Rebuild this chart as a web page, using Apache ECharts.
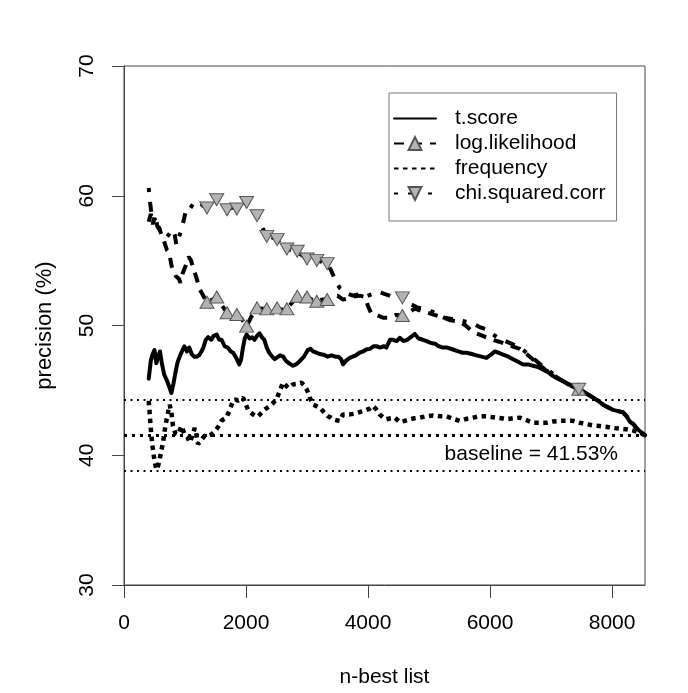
<!DOCTYPE html>
<html>
<head>
<meta charset="utf-8">
<title>precision vs n-best list</title>
<style>
  html, body { margin: 0; padding: 0; background: #fff; }
  #chart { width: 688px; height: 693px; }
</style>
<script src="https://cdn.jsdelivr.net/npm/echarts@6/dist/echarts.min.js"></script>
</head>
<body>
<div id="chart"></div>
<script>
// curves as [n, precision] pairs
const tScore = [
  [405, 45.9], [440, 47.3], [470, 47.8], [500, 48.1], [530, 47.1], [560, 47.6], [590, 48.0],
  [620, 47.1], [660, 46.2], [700, 45.8], [740, 45.3], [777, 44.8], [810, 45.5], [840, 46.3],
  [880, 47.2], [920, 47.7], [950, 48.0], [990, 48.4], [1030, 48.0], [1070, 48.3], [1110, 47.8],
  [1150, 47.6], [1190, 47.6], [1230, 47.7], [1270, 48.0], [1300, 48.3], [1340, 48.9], [1380, 49.1],
  [1430, 48.9], [1470, 49.2], [1520, 49.3], [1560, 48.9], [1600, 48.9], [1650, 48.4], [1700, 48.3],
  [1750, 48.0], [1790, 47.9], [1840, 47.5], [1890, 47.0], [1920, 47.4], [1950, 48.3], [1980, 49.0],
  [2010, 49.3], [2060, 49.0], [2100, 49.1], [2140, 48.9], [2180, 49.2], [2220, 49.4], [2260, 49.1],
  [2300, 48.9], [2340, 48.3], [2380, 47.9], [2430, 47.6], [2470, 47.4], [2500, 47.4], [2560, 47.7],
  [2610, 47.6], [2650, 47.3], [2700, 47.1], [2770, 46.9], [2820, 47.0], [2880, 47.25], [2950, 47.6],
  [3010, 48.1], [3060, 48.2], [3100, 48.0], [3160, 47.9], [3210, 47.8], [3270, 47.75], [3340, 47.6],
  [3400, 47.7], [3460, 47.6], [3510, 47.6], [3560, 47.4], [3590, 47.0], [3640, 47.3], [3700, 47.5],
  [3750, 47.6], [3800, 47.7], [3860, 47.9], [3920, 48.0], [3970, 48.15], [4030, 48.2], [4090, 48.4],
  [4140, 48.4], [4200, 48.3], [4260, 48.4], [4300, 48.3], [4360, 48.9], [4410, 48.9], [4470, 48.8],
  [4520, 49.05], [4580, 48.8], [4640, 48.9], [4700, 49.1], [4766, 49.35], [4830, 49.0], [4900, 48.9],
  [4960, 48.8], [5030, 48.65], [5100, 48.6], [5160, 48.4], [5230, 48.3], [5300, 48.3], [5393, 48.15],
  [5480, 48.0], [5550, 47.9], [5613, 47.9], [5700, 47.8], [5777, 47.7], [5860, 47.6], [5941, 47.5],
  [6000, 47.7], [6077, 48.0], [6140, 47.9], [6213, 47.75], [6300, 47.6], [6377, 47.4], [6460, 47.2],
  [6541, 47.0], [6620, 47.0], [6705, 46.9], [6790, 46.8], [6869, 46.6], [6950, 46.4], [7033, 46.1],
  [7110, 45.9], [7197, 45.7], [7280, 45.5], [7361, 45.33], [7440, 45.1], [7525, 44.95], [7600, 44.7],
  [7689, 44.44], [7770, 44.2], [7853, 43.9], [7930, 43.7], [8016, 43.5], [8100, 43.4], [8180, 43.3],
  [8240, 43.0], [8290, 42.6], [8350, 42.4], [8400, 42.1], [8470, 41.8], [8540, 41.53],
];

const logLikelihood = [
  [405, 58.0], [440, 58.6], [470, 57.8], [500, 58.3], [530, 57.5], [570, 57.6], [613, 57.0],
  [650, 56.6], [705, 55.8], [740, 55.6], [780, 54.6], [815, 54.2], [850, 53.8], [900, 53.6],
  [925, 53.3], [960, 54.0], [1011, 54.6], [1060, 55.3], [1100, 55.0], [1140, 54.3], [1180, 53.8],
  [1241, 52.8], [1300, 52.3], [1450, 52.0], [1597, 51.6], [1770, 51.0], [1930, 50.5], [2090, 50.7],
  [2260, 51.3], [2420, 51.3], [2590, 51.2], [2760, 51.8], [2920, 52.3], [3080, 52.0], [3250, 52.0],
  [3400, 52.25], [3500, 52.3], [3590, 52.0], [3680, 52.1], [3782, 52.25], [3870, 52.3], [3946, 52.2],
  [4000, 51.5], [4056, 50.9], [4150, 50.8], [4246, 50.6], [4350, 50.6], [4450, 50.8], [4660, 51.0],
  [4766, 51.3], [4880, 51.1], [4984, 50.97], [5100, 50.8], [5230, 50.6], [5350, 50.4], [5500, 50.3],
  [5600, 50.0], [5720, 49.5], [5830, 49.3], [5930, 49.1], [6040, 48.9], [6150, 48.75], [6300, 48.5],
  [6490, 48.2], [6600, 47.8], [6700, 47.4], [6800, 47.0], [6900, 46.6], [7000, 46.3], [7100, 46.0],
  [7200, 45.7], [7300, 45.4], [7525, 44.95], [7600, 44.7], [7689, 44.44], [7770, 44.2], [7853, 43.9],
  [7930, 43.7], [8016, 43.5], [8100, 43.4], [8180, 43.3], [8240, 43.0], [8290, 42.6], [8350, 42.4],
  [8400, 42.1], [8470, 41.8], [8540, 41.53],
];

const frequency = [
  [405, 44.2], [420, 43.3], [440, 42.0], [460, 41.0], [480, 40.2], [500, 39.6], [531, 38.9],
  [560, 39.2], [585, 39.7], [610, 40.3], [640, 41.0], [670, 42.0], [700, 42.8], [730, 43.5],
  [749, 43.9], [777, 43.3], [803, 42.25], [840, 41.7], [885, 41.6], [941, 42.25], [995, 41.6],
  [1040, 41.4], [1077, 41.0], [1120, 41.5], [1159, 42.1], [1190, 41.5], [1213, 40.85], [1270, 41.2],
  [1323, 41.5], [1380, 41.5], [1433, 41.6], [1480, 41.8], [1515, 42.0], [1560, 42.3], [1597, 42.65],
  [1640, 42.8], [1679, 42.9], [1733, 43.5], [1787, 44.2], [1830, 44.3], [1869, 44.2], [1910, 44.3],
  [1951, 44.45], [1990, 44.0], [2033, 43.5], [2075, 43.3], [2115, 43.15], [2160, 43.0], [2197, 43.0],
  [2240, 43.2], [2279, 43.4], [2330, 43.6], [2389, 43.8], [2440, 44.0], [2498, 44.3], [2553, 44.95],
  [2607, 45.6], [2650, 45.4], [2689, 45.2], [2730, 45.3], [2770, 45.46], [2840, 45.5], [2908, 45.6],
  [2950, 45.4], [2990, 45.1], [3020, 44.8], [3044, 44.45], [3070, 44.2], [3099, 43.9], [3150, 43.8],
  [3208, 43.67], [3262, 43.4], [3300, 43.2], [3344, 43.0], [3390, 42.9], [3426, 42.77], [3480, 42.7],
  [3536, 42.65], [3590, 43.15], [3650, 43.15], [3700, 43.15], [3780, 43.2], [3864, 43.33], [3920, 43.4],
  [3974, 43.5], [4030, 43.6], [4083, 43.8], [4140, 43.5], [4192, 43.15], [4250, 42.9], [4302, 42.77],
  [4370, 42.85], [4438, 42.9], [4520, 42.56], [4600, 42.65], [4684, 42.77], [4760, 42.85], [4848, 42.9],
  [4950, 43.0], [5066, 43.07], [5180, 43.0], [5285, 43.0], [5400, 42.8], [5503, 42.65], [5610, 42.8],
  [5721, 42.9], [5830, 43.0], [5941, 43.0], [6020, 42.95], [6105, 42.9], [6190, 42.85], [6269, 42.77],
  [6380, 42.85], [6487, 42.9], [6600, 42.7], [6705, 42.5], [6810, 42.5], [6924, 42.5], [7030, 42.6],
  [7143, 42.65], [7250, 42.65], [7361, 42.65], [7470, 42.5], [7580, 42.4], [7690, 42.3], [7798, 42.25],
  [7900, 42.2], [8016, 42.1], [8130, 42.05], [8236, 42.0], [8350, 41.9], [8454, 41.75], [8540, 41.53],
];

const chiSquared = [
  [405, 60.6], [430, 59.4], [450, 58.6], [480, 58.0], [510, 58.5], [550, 57.6], [600, 57.3],
  [650, 57.2], [700, 56.8], [750, 57.1], [800, 57.4], [831, 57.0], [859, 56.2], [900, 56.8],
  [950, 57.5], [1011, 58.8], [1077, 59.3], [1140, 59.1], [1214, 58.9], [1290, 59.3], [1440, 59.4],
  [1600, 59.2], [1770, 59.1], [1930, 59.2], [2100, 59.0], [2260, 57.6], [2420, 56.8], [2590, 56.2],
  [2750, 55.8], [2920, 55.4], [3080, 55.1], [3250, 54.9], [3400, 54.2], [3470, 53.4], [3536, 52.9],
  [3640, 52.5], [3750, 52.3], [3850, 52.4], [3950, 52.2], [4060, 52.4], [4164, 52.6], [4290, 52.4],
  [4410, 52.2], [4680, 51.7], [4800, 51.4], [4900, 51.3], [5000, 51.2], [5120, 50.9], [5250, 50.6],
  [5380, 50.5], [5500, 50.4], [5600, 50.3], [5700, 50.2], [5820, 49.9], [5940, 49.7], [6050, 49.3],
  [6150, 49.0], [6300, 48.7], [6490, 48.3], [6600, 47.9], [6700, 47.5], [6800, 47.1], [6900, 46.7],
  [7000, 46.4], [7100, 46.0], [7200, 45.7], [7300, 45.4], [7525, 44.95], [7600, 44.7], [7689, 44.44],
  [7770, 44.2], [7853, 43.9], [7930, 43.7], [8016, 43.5], [8100, 43.4], [8180, 43.3], [8240, 43.0],
  [8290, 42.6], [8350, 42.4], [8400, 42.1], [8470, 41.8], [8540, 41.53],
];

// triangle markers sit at the same n for both measures
const markerN = [1360, 1520, 1690, 1850, 2010, 2180, 2340, 2510, 2670, 2840, 3000, 3160, 3330, 4563, 7454];
const logMarkerY = [51.79, 52.2, 50.98, 50.85, 49.95, 51.36, 51.28, 51.36, 51.28, 52.25, 52.2, 51.87, 52.0, 50.77, 45.08];
const chiMarkerY = [59.05, 59.69, 58.92, 58.98, 59.48, 58.46, 56.87, 56.62, 55.9, 55.72, 55.13, 55.02, 54.77, 52.13, 45.08];

const baseline = 41.53;
const upperBound = 44.31;
const lowerBound = 38.79;

const xTicks = [0, 2000, 4000, 6000, 8000];
const xMax = 8540;
const yTicks = [30, 40, 50, 60, 70];

const FONT = "'Liberation Sans', Arial, sans-serif";
const AXIS_GRAY = "#444";

function buildLineData(points, markX, markY) {
  const data = points.map((p) => ({ value: p, symbol: "none" }));
  if (markX) {
    markX.forEach((x, i) => data.push({ value: [x, markY[i]] }));
  }
  return data.sort((a, b) => a.value[0] - b.value[0]);
}

const markerStyle = { color: "#b3b3b3", borderColor: "#555", borderWidth: 1, opacity: 1 };
const hiddenIcon = { color: "rgba(0,0,0,0)", borderColor: "rgba(0,0,0,0)", borderWidth: 0 };

const chart = echarts.init(document.getElementById("chart"));
chart.setOption({
  animation: false,
  backgroundColor: "#fff",
  textStyle: { fontFamily: FONT },
  grid: {
    left: 124, top: 66, width: 521, height: 520,
    show: true, borderColor: AXIS_GRAY, borderWidth: 1,
  },
  legend: {
    orient: "vertical",
    left: 389, top: 93,
    padding: [15, 11, 17, 4],
    itemWidth: 42, itemHeight: 16, itemGap: 4,
    borderColor: "#777", borderWidth: 1, backgroundColor: "#fff",
    selectedMode: false,
    textStyle: { fontSize: 21, color: "#000", fontFamily: FONT, padding: [0, 0, 0, 14] },
    data: [
      { name: "t.score", itemStyle: hiddenIcon },
      { name: "log.likelihood" },
      { name: "frequency", itemStyle: hiddenIcon },
      { name: "chi.squared.corr" },
    ],
  },
  xAxis: {
    type: "value",
    min: 0, max: xMax,
    name: "n-best list", nameLocation: "middle", nameGap: 82,
    nameTextStyle: { fontSize: 21, color: "#000", fontFamily: FONT },
    axisLine: { show: true, lineStyle: { color: AXIS_GRAY } },
    axisTick: { show: true, inside: false, length: 13, customValues: xTicks, lineStyle: { color: AXIS_GRAY } },
    axisLabel: {
      customValues: xTicks, fontSize: 21, color: "#000", margin: 28, fontFamily: FONT,
      formatter: (v) => String(v),
    },
    splitLine: { show: false },
  },
  yAxis: {
    type: "value",
    min: 30, max: 70, interval: 10,
    name: "precision (%)", nameLocation: "middle", nameGap: 68,
    nameTextStyle: { fontSize: 22, color: "#000", fontFamily: FONT },
    axisLine: { show: true, lineStyle: { color: AXIS_GRAY } },
    axisTick: { show: true, inside: false, length: 12, customValues: yTicks, lineStyle: { color: AXIS_GRAY } },
    axisLabel: {
      customValues: yTicks, rotate: 90, fontSize: 21, color: "#000", margin: 26, fontFamily: FONT,
      formatter: (v) => String(v),
    },
    splitLine: { show: false },
  },
  series: [
    {
      name: "reference",
      type: "line",
      data: [],
      silent: true,
      markLine: {
        silent: true,
        symbol: ["none", "none"],
        data: [
          { yAxis: upperBound, lineStyle: { color: "#000", width: 2, type: [2, 4.5] }, label: { show: false } },
          {
            yAxis: baseline,
            lineStyle: { color: "#000", width: 3, type: [3, 5] },
            label: {
              show: true, position: "insideEndBottom", formatter: "baseline = " + baseline + "%",
              fontSize: 21, color: "#000", fontFamily: FONT, distance: [27, 8],
            },
          },
          { yAxis: lowerBound, lineStyle: { color: "#000", width: 2, type: [2, 4.5] }, label: { show: false } },
        ],
      },
    },
    {
      name: "frequency",
      type: "line",
      data: buildLineData(frequency),
      symbol: "none",
      lineStyle: { color: "#000", width: 4.5, type: [4.5, 4.5] },
      itemStyle: { color: "#000" },
    },
    {
      name: "t.score",
      type: "line",
      data: buildLineData(tScore),
      symbol: "none",
      lineStyle: { color: "#000", width: 4, cap: "round", join: "round" },
      itemStyle: { color: "#000" },
    },
    {
      name: "log.likelihood",
      type: "line",
      data: buildLineData(logLikelihood, markerN, logMarkerY),
      symbol: "triangle", symbolSize: [14, 12], showSymbol: true,
      lineStyle: { color: "#000", width: 4, type: [10, 8] },
      itemStyle: markerStyle,
    },
    {
      name: "chi.squared.corr",
      type: "line",
      data: buildLineData(chiSquared, markerN, chiMarkerY),
      symbol: "triangle", symbolSize: [14, 12], symbolRotate: 180, showSymbol: true,
      lineStyle: { color: "#000", width: 4, type: [4, 10, 10, 10] },
      itemStyle: markerStyle,
    },
  ],
});
</script>
</body>
</html>
